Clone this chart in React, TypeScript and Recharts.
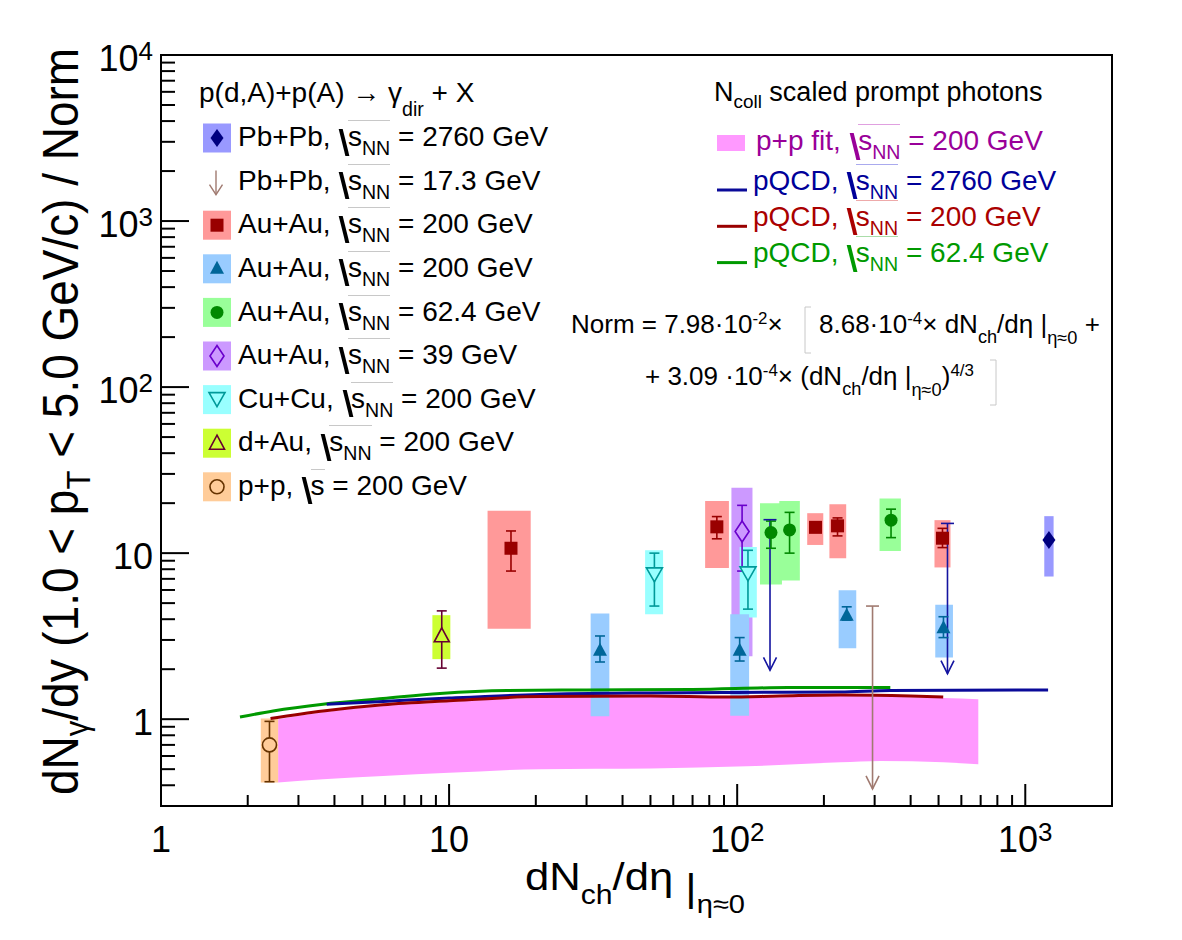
import type { ReactNode } from "react";
import {
  ComposedChart,
  XAxis,
  YAxis,
  Line,
  Area,
  Scatter,
  ErrorBar,
  ReferenceArea,
  ReferenceLine,
} from "recharts";

const FONT = '"Liberation Sans", Arial, Helvetica, sans-serif';
const W = 1182;
const H = 940;
// plot frame: x 161..1112, y 55..806
const M = { top: 55, right: 70, bottom: 133, left: 160 };
const AXIS_X = 161;
const AXIS_Y = 806;

type Point = {
  x: number;
  y: number;
  stat?: [number, number];
  sys: [number, number];
  xr: [number, number];
};

// dN_ch/deta, dN_gamma/dy, stat. range, syst. range, box range in dN_ch/deta
const pbpb2760: Point[] = [{ x: 1208, y: 12.0, sys: [7.23, 16.7], xr: [1164, 1254] }];

const auau39: Point[] = [
  { x: 104, y: 13.5, stat: [7.8, 19.4], sys: [2.39, 24.8], xr: [95.5, 113] },
];

const auau200sq: Point[] = [
  { x: 16.4, y: 10.7, stat: [7.8, 13.6], sys: [3.51, 18.0], xr: [13.6, 19.2] },
  { x: 85, y: 14.4, stat: [12.2, 16.6], sys: [8.15, 20.6], xr: [77.4, 93.6] },
  { x: 187, y: 14.3, stat: [13.4, 15.3], sys: [11.2, 17.4], xr: [175, 199] },
  { x: 223, y: 14.6, stat: [12.7, 16.3], sys: [9.3, 19.7], xr: [209, 239] },
  { x: 516, y: 12.3, stat: [10.8, 14.1], sys: [8.2, 15.8], xr: [484, 550] },
];

const auau62: Point[] = [
  { x: 131, y: 13.3, stat: [10.7, 15.6], sys: [6.47, 20.0], xr: [120, 143] },
  { x: 152, y: 13.8, stat: [10.0, 17.6], sys: [6.85, 20.6], xr: [140, 165] },
  { x: 342, y: 15.8, stat: [12.4, 18.4], sys: [10.3, 21.3], xr: [312, 370] },
];

const cucu200: Point[] = [
  { x: 51.6, y: 7.4, stat: [4.8, 10.0], sys: [4.29, 10.4], xr: [47.9, 55.3] },
  { x: 109, y: 7.5, stat: [4.6, 10.4], sys: [4.1, 10.9], xr: [102, 117] },
];

const auau200tri: Point[] = [
  { x: 33.4, y: 2.58, stat: [2.21, 3.17], sys: [1.04, 4.33], xr: [31.0, 36.0] },
  { x: 102, y: 2.58, stat: [2.24, 3.1], sys: [1.05, 4.29], xr: [94.6, 110] },
  { x: 240, y: 4.19, stat: [3.95, 4.75], sys: [2.67, 5.98], xr: [225, 259] },
  { x: 520, y: 3.53, stat: [3.1, 4.14], sys: [2.35, 4.88], xr: [487, 561] },
];

const dau200: Point[] = [
  { x: 9.43, y: 3.18, stat: [2.03, 4.49], sys: [2.3, 4.23], xr: [8.75, 10.1] },
];

const pp200: Point[] = [
  { x: 2.38, y: 0.7, stat: [0.42, 0.97], sys: [0.415, 1.01], xr: [2.22, 2.55] },
];

// upper limits: value and arrow end
const pbpb17Limits = [{ x: 295, top: 4.8, end: 0.38 }];
const auauLimits = [
  { x: 130, top: 15.9, end: 1.97 },
  { x: 537, top: 15.1, end: 1.88 },
];

// Ncoll scaled prompt photons
const pqcd2760 = [
  { x: 3.76, y: 1.23 },
  { x: 5.9, y: 1.28 },
  { x: 10, y: 1.34 },
  { x: 20.7, y: 1.41 },
  { x: 50, y: 1.44 },
  { x: 100, y: 1.45 },
  { x: 228, y: 1.46 },
  { x: 340, y: 1.49 },
  { x: 1200, y: 1.5 },
];
const pqcd200 = [
  { x: 2.4, y: 1.01 },
  { x: 3.65, y: 1.12 },
  { x: 5.9, y: 1.22 },
  { x: 10, y: 1.29 },
  { x: 20.7, y: 1.37 },
  { x: 50, y: 1.38 },
  { x: 92, y: 1.36 },
  { x: 141, y: 1.38 },
  { x: 228, y: 1.4 },
  { x: 400, y: 1.38 },
  { x: 519, y: 1.36 },
];
const pqcd62 = [
  { x: 1.88, y: 1.03 },
  { x: 2.45, y: 1.12 },
  { x: 3.65, y: 1.23 },
  { x: 5.9, y: 1.33 },
  { x: 9.3, y: 1.43 },
  { x: 15.9, y: 1.49 },
  { x: 30, y: 1.5 },
  { x: 70, y: 1.51 },
  { x: 150, y: 1.55 },
  { x: 340, y: 1.55 },
];
const ppFit = [
  { x: 2.55, band: [0.415, 1.0] },
  { x: 3.65, band: [0.435, 1.1] },
  { x: 5.9, band: [0.455, 1.2] },
  { x: 10, band: [0.475, 1.27] },
  { x: 20.7, band: [0.5, 1.34] },
  { x: 50, band: [0.505, 1.36] },
  { x: 108, band: [0.52, 1.34] },
  { x: 228, band: [0.55, 1.38] },
  { x: 314, band: [0.56, 1.37] },
  { x: 520, band: [0.55, 1.34] },
  { x: 687, band: [0.535, 1.32] },
];

const xTicks = [
  1, 2, 3, 4, 5, 6, 7, 8, 9, 10, 20, 30, 40, 50, 60, 70, 80, 90, 100, 200, 300,
  400, 500, 600, 700, 800, 900, 1000,
];
const yTicks = [
  0.3, 0.4, 0.5, 0.6, 0.7, 0.8, 0.9, 1, 2, 3, 4, 5, 6, 7, 8, 9, 10, 20, 30, 40,
  50, 60, 70, 80, 90, 100, 200, 300, 400, 500, 600, 700, 800, 900, 1000, 2000,
  3000, 4000, 5000, 6000, 7000, 8000, 9000, 10000,
];
const xMajor = [1, 10, 100, 1000];
const yMajor = [1, 10, 100, 1000, 10000];

type Kind =
  | "square"
  | "triangle"
  | "circle"
  | "diamond"
  | "openDiamond"
  | "openTriangleDown"
  | "openTriangle"
  | "openCircle";

const series: { data: Point[]; kind: Kind; color: string; box: string }[] = [
  { data: pbpb2760, kind: "diamond", color: "#00007f", box: "#9999ff" },
  { data: auau39, kind: "openDiamond", color: "#6a00cc", box: "#cc99ff" },
  { data: auau200sq, kind: "square", color: "#990000", box: "#ff9999" },
  { data: auau62, kind: "circle", color: "#008800", box: "#99ff99" },
  { data: cucu200, kind: "openTriangleDown", color: "#009999", box: "#99ffff" },
  { data: auau200tri, kind: "triangle", color: "#006699", box: "#99ccff" },
  { data: dau200, kind: "openTriangle", color: "#660033", box: "#ccff33" },
  { data: pp200, kind: "openCircle", color: "#663300", box: "#ffcc99" },
];

const LIMIT_BROWN = "#a07a70";
const LIMIT_BLUE = "#1414a0";

function glyph(kind: Kind, cx: number, cy: number, color: string, fill: string) {
  switch (kind) {
    case "square":
      return <rect x={cx - 6.5} y={cy - 6.5} width={13} height={13} fill={color} />;
    case "triangle":
      return (
        <polygon points={`${cx},${cy - 8} ${cx + 7},${cy + 5} ${cx - 7},${cy + 5}`} fill={color} />
      );
    case "circle":
      return <circle cx={cx} cy={cy} r={6.5} fill={color} />;
    case "diamond":
      return (
        <polygon
          points={`${cx},${cy - 9} ${cx + 6.5},${cy} ${cx},${cy + 9} ${cx - 6.5},${cy}`}
          fill={color}
        />
      );
    case "openDiamond":
      return (
        <polygon
          points={`${cx},${cy - 10.5} ${cx + 7},${cy} ${cx},${cy + 10.5} ${cx - 7},${cy}`}
          fill={fill}
          stroke={color}
          strokeWidth={1.6}
        />
      );
    case "openTriangleDown":
      return (
        <polygon
          points={`${cx - 8},${cy - 7} ${cx + 8},${cy - 7} ${cx},${cy + 7}`}
          fill={fill}
          stroke={color}
          strokeWidth={1.6}
        />
      );
    case "openTriangle":
      return (
        <polygon
          points={`${cx},${cy - 8} ${cx + 7.5},${cy + 6} ${cx - 7.5},${cy + 6}`}
          fill={fill}
          stroke={color}
          strokeWidth={1.6}
        />
      );
    case "openCircle":
      return <circle cx={cx} cy={cy} r={7} fill={fill} stroke={color} strokeWidth={1.6} />;
  }
}

const PowerText = ({
  x,
  y,
  v,
  anchor,
}: {
  x: number;
  y: number;
  v: number;
  anchor: "end" | "middle";
}) => {
  const e = Math.round(Math.log10(v));
  return (
    <text x={x} y={y} textAnchor={anchor} fontFamily={FONT} fontSize={36} fill="#000">
      {e === 0 ? "1" : "10"}
      {e > 1 && (
        <tspan fontSize={26} dy={-11}>
          {e}
        </tspan>
      )}
    </text>
  );
};

const XTick = (props: any) => {
  const { x, payload } = props;
  const major = xMajor.includes(payload.value);
  return (
    <g>
      <line x1={x} x2={x} y1={AXIS_Y} y2={AXIS_Y - (major ? 22 : 11)} stroke="#000" strokeWidth={2} />
      {major && <PowerText x={x} y={AXIS_Y + 46} v={payload.value} anchor="middle" />}
    </g>
  );
};

const YTick = (props: any) => {
  const { y, payload } = props;
  const major = yMajor.includes(payload.value);
  return (
    <g>
      <line x1={AXIS_X} x2={AXIS_X + (major ? 28 : 14)} y1={y} y2={y} stroke="#000" strokeWidth={2} />
      {major && <PowerText x={AXIS_X - 8} y={y + 16} v={payload.value} anchor="end" />}
    </g>
  );
};

const arrowHead = (color: string) => (p: any) => (
  <path
    d={`M${p.cx - 6.5},${p.cy - 13} L${p.cx},${p.cy} L${p.cx + 6.5},${p.cy - 13}`}
    fill="none"
    stroke={color}
    strokeWidth={1.6}
  />
);

const limitCap = (color: string) => (p: any) => (
  <line x1={p.cx - 6.5} x2={p.cx + 6.5} y1={p.cy} y2={p.cy} stroke={color} strokeWidth={1.6} />
);

// ---- text helpers for the legends and the formula ----

const Sub = ({ children, drop = 0.45 }: { children: ReactNode; drop?: number }) => (
  <span style={{ fontSize: "0.7em", verticalAlign: `-${drop}em`, lineHeight: 0 }}>{children}</span>
);

const Sup = ({ children, rise = 0.55 }: { children: ReactNode; rise?: number }) => (
  <span style={{ fontSize: "0.65em", verticalAlign: `${rise}em`, lineHeight: 0 }}>{children}</span>
);

const Root = ({ color, bar, children }: { color: string; bar: string; children: ReactNode }) => (
  <>
    <span
      style={{
        display: "inline-block",
        width: 3.5,
        height: "0.95em",
        background: color,
        verticalAlign: "-0.32em",
        transform: "skewX(14deg)",
        margin: "0 2px 0 4px",
      }}
    />
    <span style={{ borderTop: `1px solid ${bar}` }}>{children}</span>
  </>
);

const TextAt = ({
  x,
  base,
  size = 28,
  color = "#000",
  children,
}: {
  x: number;
  base: number;
  size?: number;
  color?: string;
  children: ReactNode;
}) => (
  <div
    style={{
      position: "absolute",
      left: x,
      top: base - 0.8465 * size,
      fontSize: size,
      lineHeight: `${size}px`,
      color,
      whiteSpace: "nowrap",
      fontFamily: FONT,
    }}
  >
    {children}
  </div>
);

const sNN = (color: string, bar: string) => (
  <Root color={color} bar={bar}>
    s<Sub>NN</Sub>
  </Root>
);

const legendRows: {
  label: string;
  energy: string;
  kind: Kind | "arrow";
  color: string;
  box?: string;
  nn: boolean;
}[] = [
  { label: "Pb+Pb,", energy: "2760 GeV", kind: "diamond", color: "#00007f", box: "#9999ff", nn: true },
  { label: "Pb+Pb,", energy: "17.3 GeV", kind: "arrow", color: LIMIT_BROWN, nn: true },
  { label: "Au+Au,", energy: "200 GeV", kind: "square", color: "#990000", box: "#ff9999", nn: true },
  { label: "Au+Au,", energy: "200 GeV", kind: "triangle", color: "#006699", box: "#99ccff", nn: true },
  { label: "Au+Au,", energy: "62.4 GeV", kind: "circle", color: "#008800", box: "#99ff99", nn: true },
  { label: "Au+Au,", energy: "39 GeV", kind: "openDiamond", color: "#6a00cc", box: "#cc99ff", nn: true },
  { label: "Cu+Cu,", energy: "200 GeV", kind: "openTriangleDown", color: "#009999", box: "#99ffff", nn: true },
  { label: "d+Au,", energy: "200 GeV", kind: "openTriangle", color: "#660033", box: "#ccff33", nn: true },
  { label: "p+p,", energy: "200 GeV", kind: "openCircle", color: "#663300", box: "#ffcc99", nn: false },
];

const curveRows = [
  { label: "pQCD,", energy: "2760 GeV", color: "#000099", bar: "#aaaaee", line: "#0a0a99" },
  { label: "pQCD,", energy: "200 GeV", color: "#aa0000", bar: "#eeaaaa", line: "#990000" },
  { label: "pQCD,", energy: "62.4 GeV", color: "#009900", bar: "#aaddaa", line: "#009900" },
];

export default function App() {
  return (
    <div
      style={{
        position: "absolute",
        left: 0,
        top: 0,
        width: W,
        height: H,
        background: "#fff",
        fontFamily: FONT,
      }}
    >
      <ComposedChart width={W} height={H} margin={M}>
        <XAxis
          dataKey="x"
          type="number"
          scale="log"
          domain={[1, 2000]}
          allowDataOverflow
          ticks={xTicks}
          interval={0}
          height={1}
          tickSize={0}
          tickMargin={0}
          tickLine={false}
          tick={(p: any) => <XTick {...p} />}
          axisLine={{ stroke: "#000", strokeWidth: 2 }}
        />
        <YAxis
          dataKey="y"
          type="number"
          scale="log"
          domain={[0.3, 10000]}
          allowDataOverflow
          ticks={yTicks}
          interval={0}
          width={1}
          tickSize={0}
          tickMargin={0}
          tickLine={false}
          tick={(p: any) => <YTick {...p} />}
          axisLine={{ stroke: "#000", strokeWidth: 2 }}
        />

        <Area
          data={ppFit}
          dataKey="band"
          type="monotone"
          fill="#ff99ff"
          fillOpacity={1}
          stroke="none"
          isAnimationActive={false}
        />

        {series.map((s, si) =>
          s.data.map((p, pi) => (
            <ReferenceArea
              key={`box-${si}-${pi}`}
              x1={p.xr[0]}
              x2={p.xr[1]}
              y1={p.sys[0]}
              y2={p.sys[1]}
              fill={s.box}
              fillOpacity={1}
              stroke="none"
            />
          )),
        )}

        <Line data={pqcd62} dataKey="y" type="monotone" stroke="#009900" strokeWidth={3} dot={false} isAnimationActive={false} />
        <Line data={pqcd2760} dataKey="y" type="monotone" stroke="#0a0a99" strokeWidth={3} dot={false} isAnimationActive={false} />
        <Line data={pqcd200} dataKey="y" type="monotone" stroke="#990000" strokeWidth={3} dot={false} isAnimationActive={false} />

        {pbpb17Limits.map((l, i) => (
          <ReferenceLine
            key={`pl-${i}`}
            segment={[
              { x: l.x, y: l.top },
              { x: l.x, y: l.end },
            ]}
            stroke={LIMIT_BROWN}
            strokeWidth={1.6}
          />
        ))}
        {auauLimits.map((l, i) => (
          <ReferenceLine
            key={`al-${i}`}
            segment={[
              { x: l.x, y: l.top },
              { x: l.x, y: l.end },
            ]}
            stroke={LIMIT_BLUE}
            strokeWidth={1.6}
          />
        ))}

        {series.map((s, si) => (
          <Scatter
            key={`sc-${si}`}
            data={s.data.map((p) => ({
              x: p.x,
              y: p.y,
              err: p.stat ? [p.y - p.stat[0], p.stat[1] - p.y] : [0, 0],
            }))}
            dataKey="y"
            isAnimationActive={false}
            shape={(p: any) => glyph(s.kind, p.cx, p.cy, s.color, s.box)}
          >
            {s.data[0].stat && (
              <ErrorBar dataKey="err" direction="y" width={5} stroke={s.color} strokeWidth={1.6} />
            )}
          </Scatter>
        ))}

        <Scatter
          data={pbpb17Limits.map((l) => ({ x: l.x, y: l.end }))}
          dataKey="y"
          isAnimationActive={false}
          shape={arrowHead(LIMIT_BROWN)}
        />
        <Scatter
          data={pbpb17Limits.map((l) => ({ x: l.x, y: l.top }))}
          dataKey="y"
          isAnimationActive={false}
          shape={limitCap(LIMIT_BROWN)}
        />
        <Scatter
          data={auauLimits.map((l) => ({ x: l.x, y: l.end }))}
          dataKey="y"
          isAnimationActive={false}
          shape={arrowHead(LIMIT_BLUE)}
        />
        <Scatter
          data={auauLimits.map((l) => ({ x: l.x, y: l.top }))}
          dataKey="y"
          isAnimationActive={false}
          shape={limitCap(LIMIT_BLUE)}
        />

        <ReferenceArea x1={1} x2={2000} y1={0.3} y2={10000} fill="none" stroke="#000" strokeWidth={2} />
      </ComposedChart>

      <svg
        width={W}
        height={H}
        style={{ position: "absolute", left: 0, top: 0, pointerEvents: "none" }}
      >
        {/* axis titles */}
        <text
          transform="translate(78,795) rotate(-90)"
          fontFamily={FONT}
          fontSize={50}
          textLength={747}
          lengthAdjust="spacingAndGlyphs"
        >
          dN
          <tspan fontSize={34} dy={10}>
            γ
          </tspan>
          <tspan dy={-10}>/dy (1.0 &lt; p</tspan>
          <tspan fontSize={34} dy={12}>
            T
          </tspan>
          <tspan dy={-12}> &lt; 5.0 GeV/c) / Norm</tspan>
        </text>
        <text x={525} y={890} fontFamily={FONT} fontSize={39} textLength={220} lengthAdjust="spacingAndGlyphs">
          dN
          <tspan fontSize={27} dy={14}>
            ch
          </tspan>
          <tspan dy={-14}>/dη </tspan>
          <tspan dy={11}>|</tspan>
          <tspan fontSize={26} dy={12}>
            η≈0
          </tspan>
        </text>

        {/* brackets of the normalisation formula */}
        <path d="M811,307 L805,307 L805,353 L811,353" fill="none" stroke="#c8c8c8" strokeWidth={1} />
        <path d="M990,360 L996,360 L996,405 L990,405" fill="none" stroke="#c8c8c8" strokeWidth={1} />

        {/* legend symbols */}
        {legendRows.map((r, i) => {
          const c = 138 + 43.6 * i;
          if (r.kind === "arrow") {
            return (
              <g key={`lg-${i}`} stroke={r.color} strokeWidth={1.4} fill="none">
                <line x1={216} x2={216} y1={c - 11} y2={c + 13} />
                <path d={`M209.5,${c + 3} L216,${c + 13} L222.5,${c + 3}`} />
              </g>
            );
          }
          return (
            <g key={`lg-${i}`}>
              <rect x={203} y={c - 14.5} width={28} height={29} fill={r.box} />
              {glyph(r.kind, 217, c, r.color, r.box ?? "none")}
            </g>
          );
        })}
        <rect x={717} y={135} width={28} height={16} fill="#ff99ff" />
        {curveRows.map((r, i) => (
          <line
            key={`cl-${i}`}
            x1={717}
            x2={747}
            y1={190 + 36.3 * i}
            y2={190 + 36.3 * i}
            stroke={r.line}
            strokeWidth={3}
          />
        ))}
      </svg>

      {/* left legend */}
      <TextAt x={199} base={103}>
        p(d,A)+p(A) → γ<Sub drop={0.7}>dir</Sub> + X
      </TextAt>
      {legendRows.map((r, i) => (
        <TextAt key={`lt-${i}`} x={238} base={138 + 43.6 * i + 9}>
          {r.label}{" "}
          {r.nn ? sNN("#000", "#c8c8c8") : <Root color="#000" bar="#c8c8c8">s</Root>} ={" "}
          {r.energy}
        </TextAt>
      ))}

      {/* right legend */}
      <TextAt x={714} base={102} size={27}>
        N<Sub drop={0.35}>coll</Sub> scaled prompt photons
      </TextAt>
      <TextAt x={756} base={151} color="#990099">
        p+p fit, {sNN("#990099", "#e0a0e0")} = 200 GeV
      </TextAt>
      {curveRows.map((r, i) => (
        <TextAt key={`ct-${i}`} x={753} base={190.5 + 36.3 * i} color={r.color}>
          {r.label} {sNN(r.color, r.bar)} = {r.energy}
        </TextAt>
      ))}

      {/* normalisation */}
      <TextAt x={571} base={333} size={26}>
        Norm = 7.98·10<Sup>-2</Sup>×
      </TextAt>
      <TextAt x={819} base={333} size={26}>
        8.68·10<Sup>-4</Sup>× dN<Sub drop={0.55}>ch</Sub>/dη |<Sub drop={0.6}>η≈0</Sub> +
      </TextAt>
      <TextAt x={645} base={385} size={26}>
        + 3.09 ·10<Sup>-4</Sup>× (dN<Sub drop={0.55}>ch</Sub>/dη |<Sub drop={0.6}>η≈0</Sub>)
        <Sup>4/3</Sup>
      </TextAt>
    </div>
  );
}
